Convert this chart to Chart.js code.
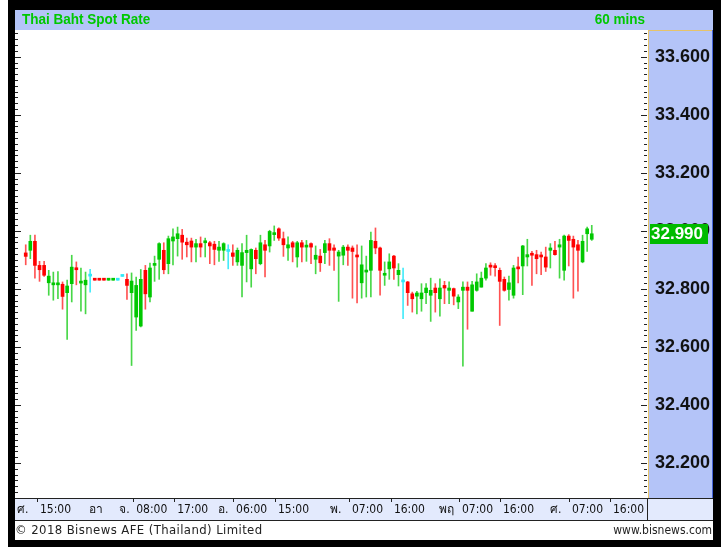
<!DOCTYPE html>
<html><head><meta charset="utf-8">
<script src="https://cdn.jsdelivr.net/npm/chart.js@4.4.0/dist/chart.umd.min.js"></script>
<style>html,body{margin:0;padding:0;background:#fff;overflow:hidden}canvas{display:block}</style>
</head><body>
<canvas id="c" width="723" height="547" style="width:723px;height:547px"></canvas>
<script>
// ---- data (hourly candles, THB per USD) ----
const open = [
32.924,32.933,32.964,32.881,32.881,32.821,32.814,32.814,32.816,32.787,
32.818,32.872,32.820,32.814,32.844,32.831,32.831,32.831,32.830,32.830,
32.830,32.843,32.833,32.787,32.703,32.672,32.864,32.772,32.881,32.902,
32.933,32.887,32.965,32.973,32.985,32.961,32.965,32.944,32.956,32.959,
32.959,32.954,32.933,32.933,32.929,32.924,32.893,32.881,32.925,32.869,
32.933,32.887,32.952,32.948,32.987,33.007,32.973,32.941,32.959,32.910,
32.959,32.944,32.956,32.902,32.913,32.925,32.956,32.941,32.913,32.916,
32.944,32.941,32.913,32.821,32.858,32.864,32.964,32.941,32.847,32.869,
32.913,32.849,32.824,32.824,32.783,32.775,32.766,32.787,32.778,32.803,
32.766,32.812,32.795,32.801,32.755,32.795,32.806,32.723,32.795,32.806,
32.837,32.881,32.879,32.864,32.833,32.798,32.778,32.875,32.879,32.910,
32.921,32.918,32.916,32.910,32.933,32.933,32.944,32.864,32.982,32.971,
32.952,32.893,32.990,32.971];
const high = [
32.952,32.985,32.985,32.895,32.895,32.864,32.858,32.860,32.824,32.830,
32.916,32.893,32.872,32.858,32.867,32.831,32.831,32.831,32.831,32.831,
32.830,32.843,32.852,32.855,32.841,32.867,32.881,32.889,32.913,32.959,
32.959,32.982,33.007,33.013,33.005,32.975,32.975,32.971,32.979,32.975,
32.964,32.964,32.964,32.959,32.952,32.952,32.941,32.956,32.985,32.938,
32.941,32.985,32.967,33.002,33.017,33.010,32.996,32.979,32.964,32.964,
32.967,32.967,32.959,32.948,32.936,32.967,32.973,32.952,32.933,32.950,
32.952,32.948,32.952,32.948,32.913,32.996,33.010,32.944,32.893,32.921,
32.916,32.887,32.872,32.826,32.789,32.792,32.818,32.818,32.837,32.818,
32.835,32.826,32.824,32.803,32.780,32.824,32.824,32.826,32.852,32.858,
32.887,32.890,32.887,32.872,32.841,32.844,32.881,32.910,32.950,32.971,
32.929,32.933,32.927,32.944,32.956,32.964,32.971,32.985,32.987,32.982,
32.967,32.985,33.013,33.019];
const low = [
32.883,32.904,32.837,32.826,32.843,32.778,32.761,32.766,32.730,32.626,
32.755,32.814,32.723,32.714,32.789,32.830,32.830,32.830,32.830,32.830,
32.830,32.843,32.764,32.536,32.657,32.669,32.730,32.755,32.826,32.833,
32.852,32.852,32.883,32.913,32.902,32.910,32.893,32.893,32.910,32.910,
32.887,32.883,32.895,32.898,32.869,32.881,32.881,32.772,32.824,32.806,
32.852,32.883,32.841,32.927,32.967,32.967,32.912,32.898,32.893,32.875,
32.893,32.895,32.887,32.852,32.860,32.887,32.881,32.864,32.757,32.883,
32.881,32.768,32.752,32.768,32.772,32.772,32.921,32.778,32.812,32.833,
32.833,32.810,32.697,32.743,32.720,32.714,32.723,32.749,32.688,32.720,
32.706,32.749,32.749,32.745,32.732,32.534,32.661,32.723,32.792,32.806,
32.830,32.847,32.844,32.674,32.792,32.761,32.768,32.821,32.780,32.879,
32.812,32.852,32.849,32.860,32.872,32.916,32.837,32.830,32.879,32.768,
32.792,32.890,32.929,32.967];
const close = [
32.912,32.964,32.881,32.866,32.847,32.844,32.821,32.818,32.774,32.810,
32.875,32.866,32.824,32.830,32.844,32.830,32.830,32.830,32.831,32.831,
32.830,32.843,32.812,32.827,32.812,32.833,32.783,32.872,32.887,32.956,
32.866,32.973,32.979,32.990,32.961,32.952,32.944,32.956,32.944,32.965,
32.948,32.936,32.944,32.956,32.929,32.912,32.933,32.925,32.933,32.936,
32.904,32.959,32.933,32.998,32.992,32.975,32.952,32.952,32.944,32.959,
32.944,32.948,32.944,32.916,32.890,32.956,32.933,32.933,32.927,32.944,
32.933,32.929,32.910,32.883,32.864,32.967,32.941,32.864,32.852,32.893,
32.872,32.864,32.824,32.787,32.766,32.786,32.786,32.803,32.795,32.787,
32.803,32.803,32.803,32.775,32.772,32.806,32.795,32.814,32.824,32.837,
32.872,32.875,32.873,32.826,32.795,32.821,32.872,32.869,32.948,32.918,
32.916,32.904,32.910,32.875,32.941,32.918,32.952,32.982,32.967,32.944,
32.933,32.964,33.007,32.990];

// y axis tick labels
const yTickValues = [32.2, 32.4, 32.6, 32.8, 33.0, 33.2, 33.4, 33.6];
// x axis labels (position in candle slots)
const xDayLabels = ['ศ.', 'อา', 'จ.', 'อ.', 'พ.', 'พฤ', 'ศ.'];
const xDaySlots  = [-1.9, 13.8, 20.3, 41.8, 66.1, 89.8, 113.9];
const xTimeLabels = ['15:00','08:00','17:00','06:00','15:00','07:00','16:00','07:00','16:00','07:00','16:00'];
const xTimeSlots  = [3.1, 24.0, 32.9, 45.7, 54.8, 70.9, 80.0, 94.8, 103.7, 118.7, 127.6];

const titleText = 'Thai Baht Spot Rate';
const periodText = '60 mins';
const footerLeft = '© 2018 Bisnews AFE (Thailand) Limited';
const footerRight = 'www.bisnews.com';

const UP = '#00c800', DOWN = '#ff0000', FLAT = '#30e8f8';
const UPW = 'rgba(0,200,0,0.72)', DOWNW = 'rgba(255,0,0,0.68)', FLATW = 'rgba(48,232,248,0.9)';
const idx = open.map((_, i) => i);
const dir = i => close[i] > open[i] ? 1 : (close[i] < open[i] ? -1 : 0);
const bodyColor = i => [FLAT, UP, DOWN][dir(i) === -1 ? 2 : dir(i)];
const wickColor = i => [FLATW, UPW, DOWNW][dir(i) === -1 ? 2 : dir(i)];

const W = 723, H = 547;
const PANEL = '#b4c4f8';
const smallFont = '12px Tahoma, "DejaVu Sans Condensed", "DejaVu Sans", "Noto Sans", sans-serif';

const framePlugin = {
  id: 'frame',
  beforeDraw(chart) {
    const ctx = chart.ctx, a = chart.chartArea;
    ctx.save();
    ctx.fillStyle = '#fff'; ctx.fillRect(0, 0, W, H);
    ctx.fillStyle = '#000'; ctx.fillRect(8, 0, 713, H);
    ctx.fillStyle = PANEL; ctx.fillRect(15, 10, 698, 20);
    ctx.fillStyle = '#fff'; ctx.fillRect(a.left, a.top, a.right - a.left, a.bottom - a.top + 1);
    ctx.fillStyle = PANEL; ctx.fillRect(a.right, a.top, 713 - a.right, a.bottom - a.top + 1);
    ctx.fillStyle = '#e3eafd'; ctx.fillRect(15, 498, 698, 22);
    ctx.fillStyle = '#fff'; ctx.fillRect(15, 521, 698, 19);
    ctx.lineWidth = 1;
    ctx.strokeStyle = '#e6c36a';
    ctx.beginPath(); ctx.moveTo(a.right + 0.5, a.top); ctx.lineTo(a.right + 0.5, 498); ctx.stroke();
    ctx.beginPath(); ctx.moveTo(a.right, a.top + 0.5); ctx.lineTo(713, a.top + 0.5); ctx.stroke();
    ctx.strokeStyle = '#4664d8';
    ctx.beginPath(); ctx.moveTo(712.5, a.top); ctx.lineTo(712.5, 498); ctx.stroke();
    ctx.strokeStyle = '#222';
    ctx.beginPath(); ctx.moveTo(15, 498.5); ctx.lineTo(713, 498.5); ctx.stroke();
    ctx.beginPath(); ctx.moveTo(15, 520.5); ctx.lineTo(713, 520.5); ctx.stroke();
    ctx.beginPath(); ctx.moveTo(a.right - 0.5, 498); ctx.lineTo(a.right - 0.5, 520); ctx.stroke();
    // title texts (narrow bold)
    ctx.fillStyle = '#00c800';
    ctx.font = 'bold 15px "Liberation Sans", Arial, sans-serif';
    ctx.textBaseline = 'middle';
    ctx.save(); ctx.translate(22, 20); ctx.scale(0.9, 1);
    ctx.textAlign = 'left'; ctx.fillText(titleText, 0, 0); ctx.restore();
    ctx.save(); ctx.translate(645, 20); ctx.scale(0.9, 1);
    ctx.textAlign = 'right'; ctx.fillText(periodText, 0, 0); ctx.restore();
    // footer texts
    ctx.fillStyle = '#222';
    ctx.font = '13px Tahoma, "DejaVu Sans Condensed", "DejaVu Sans", sans-serif';
    ctx.letterSpacing = '0.4px';
    ctx.textAlign = 'left'; ctx.fillText(footerLeft, 15, 531);
    ctx.letterSpacing = '0px';
    ctx.font = smallFont;
    ctx.textAlign = 'right'; ctx.fillText(footerRight, 712, 531);
    ctx.restore();
  },
  afterDraw(chart) {
    const ctx = chart.ctx, a = chart.chartArea;
    const ys = chart.scales.y, xs = chart.scales.x;
    ctx.save();
    ctx.strokeStyle = '#222'; ctx.lineWidth = 1;
    for (let k = Math.ceil(ys.min * 50); k <= Math.floor(ys.max * 50); k++) {
      const v = k / 50;
      const y = Math.round(ys.getPixelForValue(v)) + 0.5;
      const major = (k % 10) === 0;
      ctx.beginPath();
      ctx.moveTo(a.left, y); ctx.lineTo(a.left + (major ? 6 : 3), y);
      ctx.moveTo(a.right - 1, y); ctx.lineTo(a.right - (major ? 7 : 4), y);
      ctx.stroke();
    }
    ctx.fillStyle = '#111'; ctx.font = smallFont; ctx.textBaseline = 'middle'; ctx.textAlign = 'left';
    xDayLabels.forEach((t, i) => ctx.fillText(t, xs.getPixelForValue(xDaySlots[i]), 510));
    xTimeLabels.forEach((t, i) => {
      const x = xs.getPixelForValue(xTimeSlots[i]);
      ctx.fillText(t, x, 510);
      ctx.beginPath(); ctx.moveTo(Math.round(x - 3) + 0.5, 499); ctx.lineTo(Math.round(x - 3) + 0.5, 502); ctx.stroke();
    });
    // last price marker (covers the nearby axis label)
    const last = close[close.length - 1];
    const py = ys.getPixelForValue(last);
    ctx.fillStyle = '#00bb00'; ctx.fillRect(a.right + 2, Math.round(py - 10), 58, 20);
    ctx.fillStyle = '#fff';
    ctx.font = 'bold 17px "Liberation Sans", Arial, sans-serif';
    ctx.textAlign = 'left'; ctx.textBaseline = 'middle';
    ctx.fillText(last.toFixed(3), a.right + 3, py + 1);
    ctx.restore();
  }
};

new Chart(document.getElementById('c'), {
  type: 'bar',
  data: {
    datasets: [
      {
        label: 'range',
        data: idx.map(i => ({ x: i, y: [low[i], high[i]] })),
        backgroundColor: idx.map(wickColor),
        barThickness: 1, maxBarThickness: 1, grouped: false, order: 2,
        borderWidth: 0
      },
      {
        label: 'body',
        data: idx.map(i => ({ x: i, y: [open[i], close[i]] })),
        backgroundColor: idx.map(bodyColor),
        barThickness: 3, maxBarThickness: 3, minBarLength: 2, grouped: false, order: 1,
        borderWidth: 0
      }
    ]
  },
  options: {
    responsive: false, animation: false, devicePixelRatio: 1,
    layout: { padding: { left: 15, top: 30, right: 10, bottom: 50 } },
    plugins: { legend: { display: false }, tooltip: { enabled: false } },
    scales: {
      x: { type: 'linear', min: -2.33, max: 135.22, display: false, offset: false },
      y: {
        type: 'linear', position: 'right', min: 32.083, max: 33.692,
        afterFit(s) { s.width = 65; },
        afterBuildTicks(s) { s.ticks = yTickValues.map(v => ({ value: v })); },
        grid: { display: false, drawTicks: false },
        border: { display: false },
        ticks: {
          padding: 7, color: '#111',
          font: { family: '"Liberation Sans", Arial, sans-serif', weight: 'bold', size: 18 },
          callback: v => Number(v).toFixed(3)
        }
      }
    }
  },
  plugins: [framePlugin]
});
</script>
</body></html>
